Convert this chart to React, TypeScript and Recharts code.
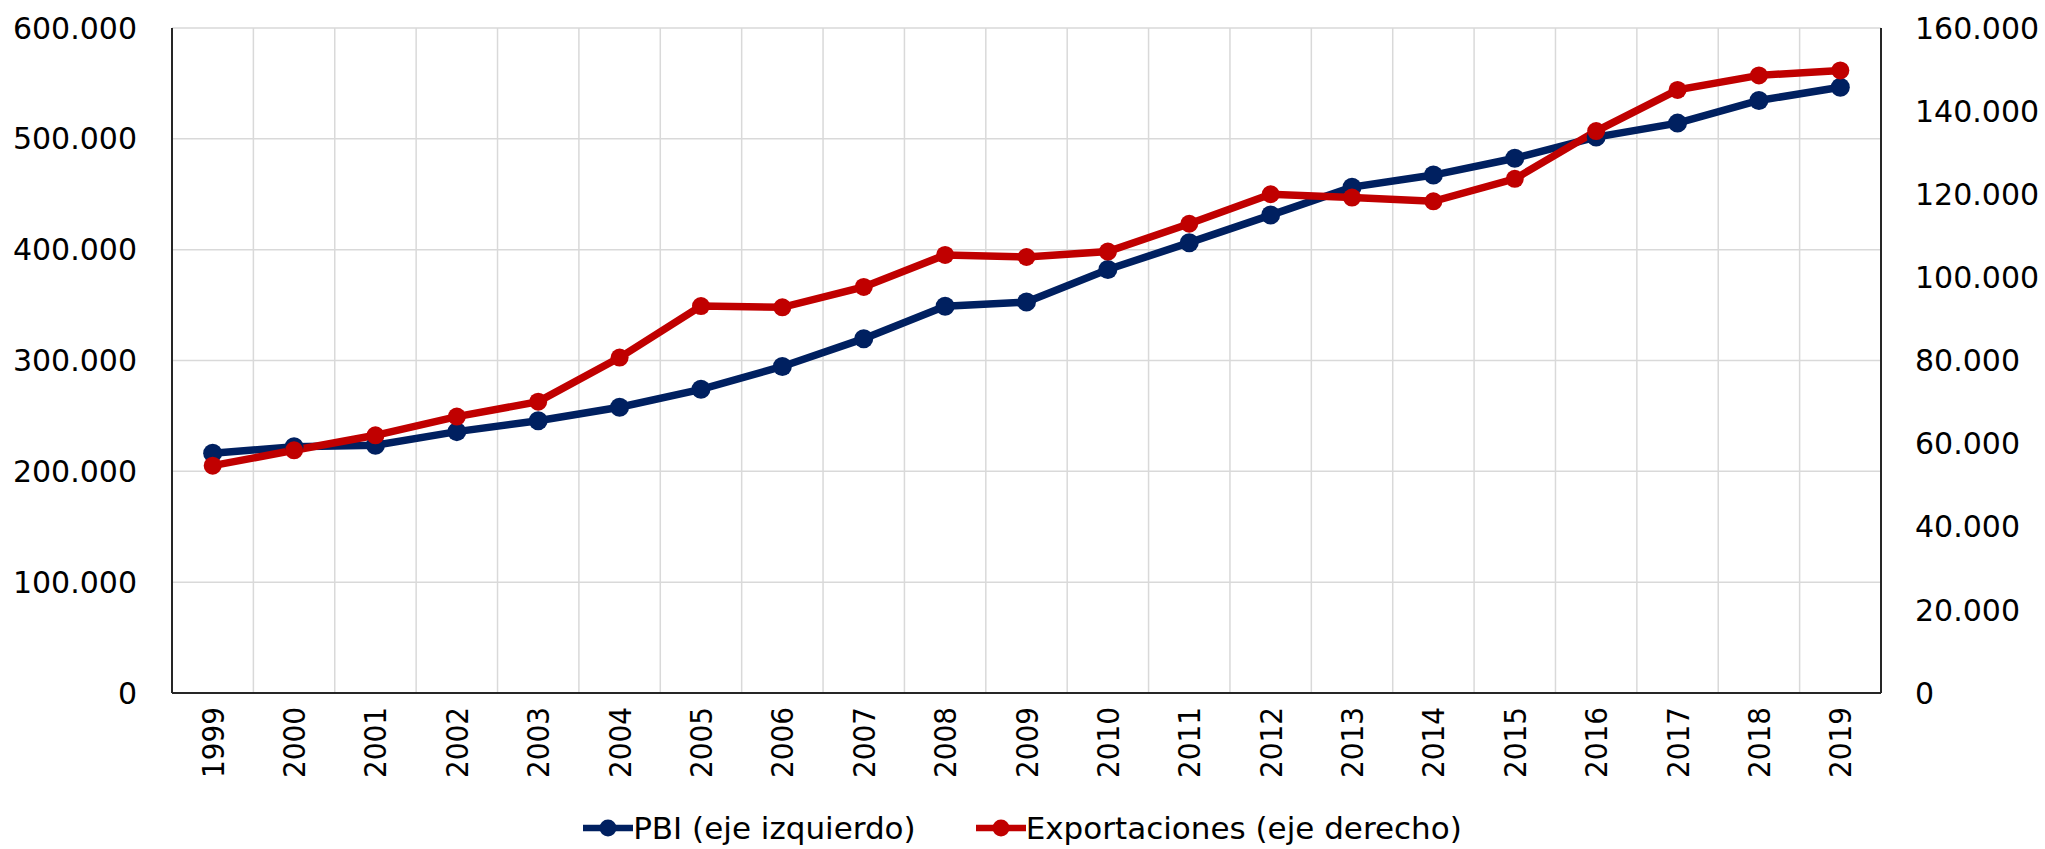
import React from "react";
import {
  LineChart, Line, XAxis, YAxis, CartesianGrid, Legend,
} from "recharts";

// Years on the x axis
const years = [
  1999, 2000, 2001, 2002, 2003, 2004, 2005, 2006, 2007, 2008, 2009,
  2010, 2011, 2012, 2013, 2014, 2015, 2016, 2017, 2018, 2019,
];

// PBI, left axis
const pbi = [
  216400, 222200, 223600, 235800, 245600, 257800, 274000, 294600, 319700, 348900, 352700,
  382100, 406300, 431200, 456400, 467300, 482500, 501600, 514200, 534600, 546600,
];

// Exportaciones, right axis
const exportaciones = [
  54700, 58400, 62000, 66500, 70100, 80700, 93100, 92800, 97700, 105400, 104900,
  106200, 112900, 120000, 119200, 118300, 123700, 135200, 145100, 148600, 149800,
];

const leftTicks = [0, 100000, 200000, 300000, 400000, 500000, 600000];
const rightTicks = [0, 20000, 40000, 60000, 80000, 100000, 120000, 140000, 160000];
// category boundaries, used only for the vertical grid lines
const yearEdges = [...years.map(y => y - 0.5), years[years.length - 1] + 0.5];

const seriesOrder = ["pbi", "exportaciones"];

const BLUE = "#002060";
const RED = "#C00000";
const AXIS = "#262626";
const GRID = "#d9d9d9";

const fmt = (v: number) => v.toString().replace(/\B(?=(\d{3})+(?!\d))/g, ".");

const data = years.map((year, i) => ({
  year,
  pbi: pbi[i],
  exportaciones: exportaciones[i],
}));

function YearTick({ x, y, payload }: any) {
  return (
    <text
      x={x}
      y={y}
      transform={`rotate(-90, ${x}, ${y})`}
      textAnchor="end"
      dominantBaseline="central"
      fontSize={31}
      fontFamily="'DejaVu Sans Condensed', 'DejaVu Sans', sans-serif"
      fill="#000"
    >
      {payload.value}
    </text>
  );
}

function LegendContent({ payload }: any) {
  const items = [...(payload ?? [])].sort(
    (a: any, b: any) => seriesOrder.indexOf(a.dataKey) - seriesOrder.indexOf(b.dataKey)
  );
  return (
    <div style={{ display: "flex", justifyContent: "center", alignItems: "center", height: 56 }}>
      {items.map((p: any, i: number) => (
        <div key={i} style={{ display: "flex", alignItems: "center", marginLeft: i ? 60 : 0, marginTop: 14 }}>
          <svg width={50} height={20}>
            <line x1={0} x2={50} y1={10} y2={10} stroke={p.color} strokeWidth={6.5} strokeLinecap="round" />
            <circle cx={25} cy={10} r={8.5} fill={p.color} />
          </svg>
          <span style={{ fontSize: 31, color: "#000", lineHeight: "36px" }}>{p.value}</span>
        </div>
      ))}
    </div>
  );
}

export default function App() {
  return (
    <div style={{ position: "absolute", left: 0, top: 0, width: 2045, height: 849, background: "#fff", fontFamily: "'DejaVu Sans', sans-serif" }}>
      <LineChart width={2045} height={849} data={data} margin={{ top: 28, right: 0, bottom: 0, left: 0 }}>
        <CartesianGrid
          xAxisId="grid"
          yAxisId="left"
          stroke={GRID}
          strokeWidth={1.5}
        />
        <XAxis
          dataKey="year"
          type="number"
          domain={[1998.5, 2019.5]}
          ticks={years}
          interval={0}
          height={100}
          tickSize={0}
          tickMargin={14}
          tick={<YearTick />}
          axisLine={{ stroke: AXIS, strokeWidth: 2 }}
          tickLine={false}
        />
        <XAxis
          xAxisId="grid"
          dataKey="year"
          type="number"
          domain={[1998.5, 2019.5]}
          ticks={yearEdges}
          interval={0}
          hide
        />
        <YAxis
          yAxisId="left"
          domain={[0, 600000]}
          ticks={leftTicks}
          interval={0}
          width={172}
          tickFormatter={fmt}
          tickSize={0}
          tickMargin={35}
          tickLine={false}
          axisLine={{ stroke: AXIS, strokeWidth: 2 }}
          tick={{ fontSize: 30, fill: "#000" }}
        />
        <YAxis
          yAxisId="right"
          orientation="right"
          domain={[0, 160000]}
          ticks={rightTicks}
          interval={0}
          width={164}
          tickFormatter={fmt}
          tickSize={0}
          tickMargin={34}
          tickLine={false}
          axisLine={{ stroke: AXIS, strokeWidth: 2 }}
          tick={{ fontSize: 30, fill: "#000", textAnchor: "start" }}
        />
        <Legend verticalAlign="bottom" height={56} content={<LegendContent />} />
        <Line
          yAxisId="left"
          dataKey="pbi"
          name="PBI (eje izquierdo)"
          stroke={BLUE}
          strokeWidth={7.5}
          dot={{ r: 9.5, fill: BLUE, stroke: BLUE, strokeWidth: 0 }}
          activeDot={false}
          isAnimationActive={false}
        />
        <Line
          yAxisId="right"
          dataKey="exportaciones"
          name="Exportaciones (eje derecho)"
          stroke={RED}
          strokeWidth={7.5}
          dot={{ r: 9, fill: RED, stroke: RED, strokeWidth: 0 }}
          activeDot={false}
          isAnimationActive={false}
        />
      </LineChart>
    </div>
  );
}
